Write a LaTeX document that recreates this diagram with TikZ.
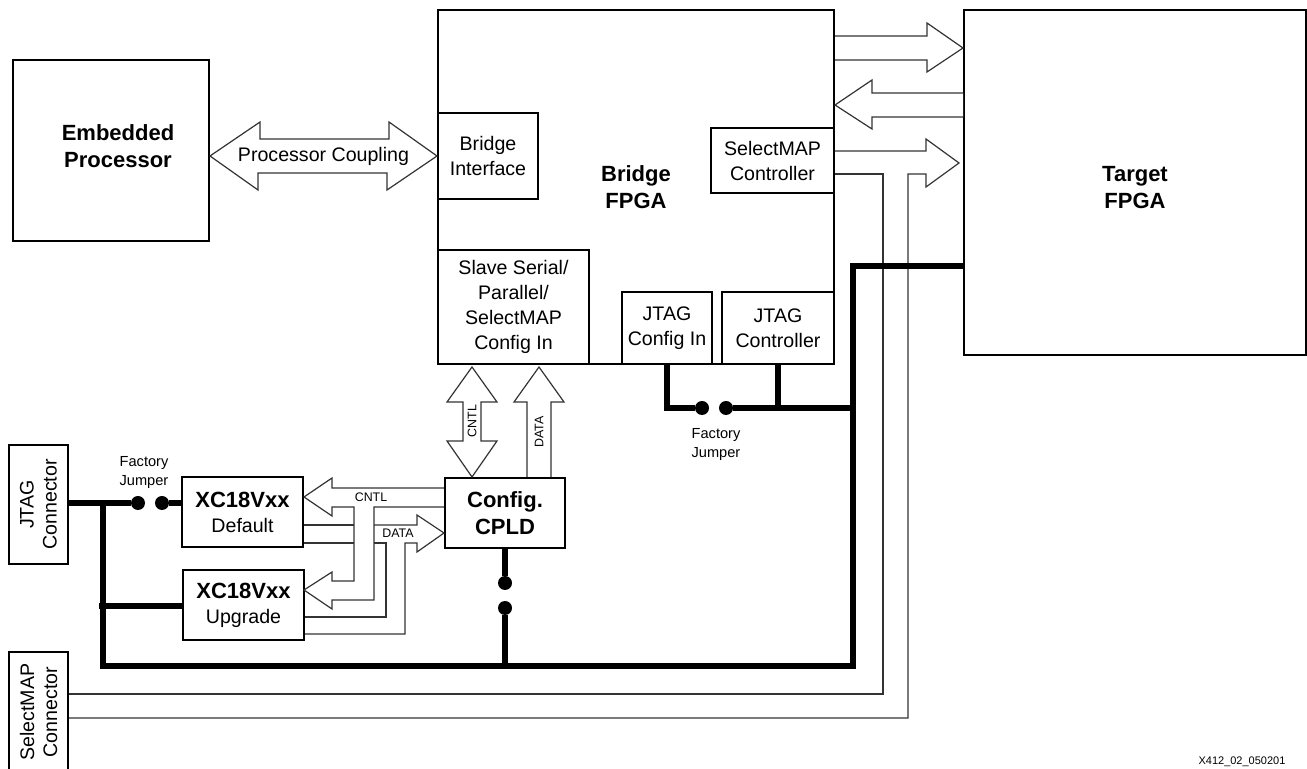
\documentclass[tikz,border=0pt]{standalone}
\usepackage{fontspec}
\setmainfont{Liberation Sans}
\begin{document}
\begin{tikzpicture}[x=0.5pt, y=-0.5pt,
  box/.style={draw, line width=1pt, inner sep=0pt, align=center, font={\fontsize{9.8}{12.5}\selectfont}},
  title/.style={font={\fontsize{11}{13.5}\selectfont\bfseries}, align=center},
  fat/.style={draw=black!80, line width=0.6pt, fill=white, line join=miter},
  sig/.style={draw=black!80, line width=0.6pt},
  bus/.style={line width=3pt, line join=miter},
  tag/.style={font={\fontsize{6.2}{7.5}\selectfont}, inner sep=1pt},
  note/.style={font={\fontsize{7.3}{9.5}\selectfont}, align=center},
  jdot/.style={circle, fill, inner sep=0pt, minimum size=7pt}]
  \useasboundingbox (0,0) rectangle (1307,769);
  \clip (0,0) rectangle (1307,769);

  %% main blocks
  \node[box, minimum width=98pt, minimum height=90.5pt] (emb) at (111,150.5) {};
  \node[title] (embtxt) at (118,146) {Embedded\\Processor};
  \node[box, title, minimum width=198pt, minimum height=177pt] (brg) at (636,187) {Bridge\\FPGA};
  \node[box, minimum width=171pt, minimum height=172.5pt] (tgt) at (1135,182.5) {};
  \node[title] (tgttxt) at (1135,188) {Target\\FPGA};

  %% blocks inside the bridge
  \node[box, minimum width=50pt, minimum height=43pt] (bif) at (488,156) {Bridge\\Interface};
  \node[box, minimum width=61.5pt, minimum height=32.5pt] (smc) at (772.5,160.5) {SelectMAP\\Controller};
  \node[box, minimum width=75.5pt, minimum height=57pt] (ssp) at (513.5,307) {Slave Serial/\\Parallel/\\SelectMAP\\Config In};
  \node[box, minimum width=45pt, minimum height=36pt] (jci) at (667,328) {JTAG\\Config In};
  \node[box, minimum width=56pt, minimum height=36pt] (jct) at (778,328) {JTAG\\Controller};

  %% configuration parts
  \node[box, title, minimum width=60pt, minimum height=35pt] (cpld) at (505,513) {Config.\\CPLD};
  \node[box, minimum width=60.5pt, minimum height=35pt] (dflt) at (242.5,512) {\textbf{\fontsize{11}{12}\selectfont XC18Vxx}\\Default};
  \node[box, minimum width=60.5pt, minimum height=35pt] (upg) at (243.5,605) {\textbf{\fontsize{11}{12}\selectfont XC18Vxx}\\Upgrade};

  %% connectors
  \node[box, minimum width=29.5pt, minimum height=59.5pt] (jcon) at (38.5,504.5) {};
  \node[box, minimum width=29.5pt, minimum height=60pt] (smcon) at (38.5,712) {};
  \node[rotate=90, align=center, font={\fontsize{9.8}{11.5}\selectfont}] at (jcon) {JTAG\\Connector};
  \node[rotate=90, align=center, font={\fontsize{9.8}{11.5}\selectfont}] at (smcon) {SelectMAP\\Connector};

  %% processor coupling
  \draw[fat] (emb.east |- bif.west) -- ++(50,-34) -- ++(0,17) -- ++(129,0) -- ++(0,-17) -- (bif.west)
    -- ++(-50,34) -- ++(0,-17) -- ++(-129,0) -- ++(0,17) -- cycle;
  \node[font={\fontsize{9.8}{12}\selectfont}] (pcpl) at (323.5,156) {Processor Coupling};

  %% bridge <-> target
  \draw[fat] (brg.east |- 0,36) -- (927,36) -- (927,23) -- (tgt.west |- 0,48) -- (927,72) -- (927,60) -- (brg.east |- 0,60);
  \draw[fat] (tgt.west |- 0,93) -- (872,93) -- (872,80) -- (brg.east |- 0,105) -- (872,129) -- (872,117) -- (tgt.west |- 0,117);

  %% selectmap lines
  \draw[fat, fill=none] (smc.east |- 0,151) -- (926,151) -- (926,139) -- (959,163) -- (926,187) -- (926,174)
    -- (908,174) -- (908,718) -- (smcon.east |- 0,718);
  \draw[sig] (smc.east |- 0,174) -- (883,174) -- (883,694) -- (smcon.east |- 0,694);

  %% slave serial <-> cpld
  \draw[fat] (472,367) -- (497,402) -- (481,402) -- (481,441) -- (497,441) -- (472,477)
    -- (447,441) -- (463,441) -- (463,402) -- (447,402) -- cycle;
  \node[tag, rotate=90] (cntlv) at (472,421) {CNTL};
  \draw[fat] (527,0 |- cpld.north) -- (527,402) -- (514,402) -- (539,367) -- (564,402) -- (551,402) -- (551,0 |- cpld.north);
  \node[tag, rotate=90] (datav) at (539,432) {DATA};

  %% cpld -> proms, control
  \draw[fat, fill=none] (cpld.west |- 0,488) -- (332,488) -- (332,478) -- (304,497) -- (332,516) -- (332,507)
    -- (354,507) -- (354,581) -- (332,581) -- (332,572) -- (304,590) -- (332,609) -- (332,600)
    -- (374,600) -- (374,507) -- (cpld.west |- 0,507);
  \node[tag] (cntlh) at (371,497) {CNTL};

  %% proms -> cpld, data
  \draw[sig] (dflt.east |- 0,525) -- (354,525);
  \draw[sig] (dflt.east |- 0,543) -- (354,543);
  \draw[fat, fill=none] (374,525) -- (417,525) -- (417,515) -- (cpld.west |- 0,533) -- (417,552) -- (417,543)
    -- (405,543) -- (405,634) -- (upg.east |- 0,634);
  \draw[sig] (374,543) -- (386,543) -- (386,617) -- (upg.east |- 0,617);
  \node[tag] (datah) at (398,533) {DATA};

  %% jtag chain
  \node[jdot] (jd1) at (138,503) {};
  \node[jdot] (jd2) at (162,503) {};
  \node[jdot] (jd3) at (702,408) {};
  \node[jdot] (jd4) at (726,408) {};
  \node[jdot] (jd5) at (505,583) {};
  \node[jdot] (jd6) at (505,608) {};
  \draw[bus] (jcon.east |- jd1) -- (jd1);
  \draw[bus] (jd2) -- (dflt.west |- jd2);
  \draw[bus] (103,503) -- (103,666) -- (853,666) -- (853,266) -- (tgt.west |- 0,266);
  \draw[bus] (99,606) -- (upg.west |- 0,606);
  \draw[bus] (cpld.south) -- (jd5);
  \draw[bus] (jd6) -- (505,666);
  \draw[bus] (jci.south) -- (667,408) -- (jd3);
  \draw[bus] (jd4) -- (853,408);
  \draw[bus] (jct.south) -- (778,408);
  \node[note] (fj1) at (144,472) {Factory\\Jumper};
  \node[note] (fj2) at (716,444) {Factory\\Jumper};

  \node[font={\fontsize{5.5}{6}\selectfont}, anchor=south, inner sep=1pt] (figid) at (1242,769) {X412\_02\_050201};
\end{tikzpicture}
\end{document}
